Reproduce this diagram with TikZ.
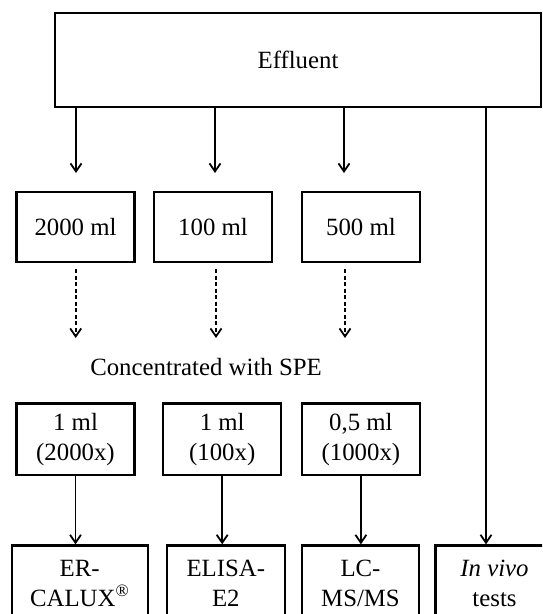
\documentclass[tikz,border=0pt]{standalone}
\usepackage{fontspec}
\setmainfont{Liberation Serif}
\usetikzlibrary{arrows.meta}
\begin{document}
\begin{tikzpicture}[x=1pt,y=-1pt,
  txt/.style={font=\fontsize{24.8}{30}\selectfont,align=center,inner sep=0pt},
  box/.style={txt,draw,line width=2.3pt},
  smallbox/.style={box,minimum width=118pt,minimum height=70pt},
  midbox/.style={box,minimum width=118pt,minimum height=71.7pt},
  endbox/.style={box,minimum height=75pt},
  arr/.style={line width=1.8pt,-{Straight Barb[length=8pt,width=11pt]}},
  darr/.style={arr,dash pattern=on 4pt off 2.5pt}]
\useasboundingbox (0,0) rectangle (542,614);
\clip (0,0) rectangle (542,614);
% top box
\node[box,minimum width=486pt,minimum height=94pt] (eff) at (298,60.3) {Effluent};
% volumes
\node[smallbox] (v1) at (75.5,226.7) {2000 ml};
\node[smallbox] (v2) at (213,226.7) {100 ml};
\node[smallbox] (v3) at (360.9,226.7) {500 ml};
% SPE label
\node[txt] (spe) at (206,367) {Concentrated with SPE};
% concentrates
\node[midbox] (c1) at (75.5,439.2) {1 ml\\(2000x)};
\node[midbox] (c2) at (222.2,439.2) {1 ml\\(100x)};
\node[midbox] (c3) at (360.9,439.2) {0,5 ml\\(1000x)};
% tests
\node[endbox,minimum width=136pt] (t1) at (79.7,583) {ER-\\CALUX\textsuperscript{®}};
\node[endbox,minimum width=118.3pt] (t2) at (225.8,583) {ELISA-\\E2};
\node[endbox,minimum width=117.6pt] (t3) at (360.5,583) {LC-\\MS/MS};
\node[endbox,minimum width=118pt] (t4) at (494.5,583) {\textit{In vivo}\\tests};
% coordinates for free arrow ends
\coordinate (a1) at (76,173);
\coordinate (a2) at (215,173);
\coordinate (a3) at (344,173);
\coordinate (d1s) at (75.7,269);
\coordinate (d1e) at (75.7,338);
\coordinate (d2s) at (216,269);
\coordinate (d2e) at (216,338);
\coordinate (d3s) at (345,269);
\coordinate (d3e) at (345,338);
\coordinate (iv) at (486,0);
% arrows
\draw[arr] (eff.south -| a1) -- (a1);
\draw[arr] (eff.south -| a2) -- (a2);
\draw[arr] (eff.south -| a3) -- (a3);
\draw[darr] (d1s) -- (d1e);
\draw[darr] (d2s) -- (d2e);
\draw[darr] (d3s) -- (d3e);
\draw[arr] (c1.south) -- (c1.south |- t1.north);
\draw[arr] (c2.south) -- (c2.south |- t2.north);
\draw[arr] (c3.south) -- (c3.south |- t3.north);
\draw[arr] (eff.south -| iv) -- (t4.north -| iv);
\end{tikzpicture}
\end{document}
